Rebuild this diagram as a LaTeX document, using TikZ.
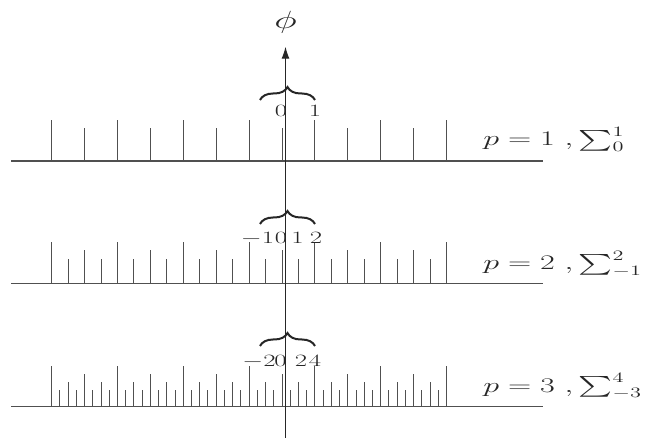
\documentclass[tikz,border=0pt]{standalone}
\usepackage{amsmath}
\usetikzlibrary{arrows.meta,decorations.pathreplacing}
\definecolor{ink}{HTML}{262626}
\definecolor{linec}{HTML}{505050}
\begin{document}
\begin{tikzpicture}[x=1pt,y=-1pt,
  rowline/.style={draw=linec,line width=1.3pt},
  tickline/.style={draw=linec,line width=1pt},
  axisline/.style={draw=ink,line width=1.1pt},
  ticklab/.style={text=ink,inner sep=0pt,anchor=base,xscale=1.55,font=\fontsize{17}{20}\selectfont},
  rowlab/.style={text=ink,inner sep=0pt,anchor=base west,xscale=1.55,font=\fontsize{21}{25}\selectfont},
  brc/.style={draw=ink,line width=2pt,decorate,decoration={brace,amplitude=13pt}}
]
\useasboundingbox (0,0) rectangle (651,438);

% rows: number / baseline y / step
\foreach \r/\yb/\st in {1/161/4, 2/283.3/2, 3/406.7/1} {
  \coordinate (L\r) at (11,\yb);
  \coordinate (R\r) at (543,\yb);
  \draw[rowline] (L\r) -- (R\r);
  \foreach \k in {0,\st,...,48} {
    \pgfmathtruncatemacro{\m}{mod(\k,8)}
    \pgfmathsetmacro{\h}{\m==0 ? 41 : (\m==4 ? 33 : (mod(\m,2)==0 ? 24.7 : 16.4))}
    \pgfmathsetmacro{\xx}{51.7+\k*8.225}
    \draw[tickline] (\xx,\yb) -- (\xx,\yb-\h);
  }
}

% vertical axis
\coordinate (ax0) at (285.5,445);
\coordinate (ax1) at (285.5,46.7);
\draw[axisline,-{Latex[length=12pt,width=8pt]}] (ax0) -- (ax1);
\node[text=ink,inner sep=0pt,xscale=1.55,font=\fontsize{23}{27}\selectfont] (phi) at (285.5,22) {$\phi$};

% braces
\coordinate (b1a) at (260,100); \coordinate (b1b) at (315,100);
\coordinate (b2a) at (260,224); \coordinate (b2b) at (315,224);
\coordinate (b3a) at (260,346); \coordinate (b3b) at (315,346);
\draw[brc] (b1a) -- (b1b);
\draw[brc] (b2a) -- (b2b);
\draw[brc] (b3a) -- (b3b);

% tick labels
\node[ticklab] (l10) at (281,116.7) {$0$};
\node[ticklab] (l11) at (315,116.7) {$1$};

\node[ticklab] (l2m) at (257.5,243.3) {$-1$};
\node[ticklab] (l20) at (281,243.3) {$0$};
\node[ticklab] (l21) at (297.5,243.3) {$1$};
\node[ticklab] (l22) at (316,243.3) {$2$};

\node[ticklab] (l3m) at (259,366.7) {$-2$};
\node[ticklab] (l30) at (280.5,366.7) {$0$};
\node[ticklab] (l32) at (301,366.7) {$2$};
\node[ticklab] (l34) at (315,366.7) {$4$};

% row labels
\node[rowlab] (p1) at (483,146) {$p=1\ ,\sum_{0}^{1}$};
\node[rowlab] (p2) at (483,270) {$p=2\ ,\sum_{-1}^{2}$};
\node[rowlab] (p3) at (483,392) {$p=3\ ,\sum_{-3}^{4}$};
\end{tikzpicture}
\end{document}
